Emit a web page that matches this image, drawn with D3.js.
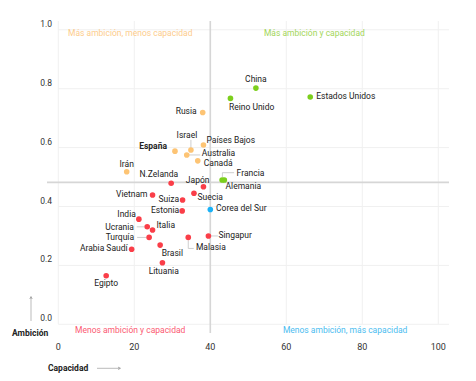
<!DOCTYPE html>
<html>
<head>
<meta charset="utf-8">
<script src="https://cdn.jsdelivr.net/npm/d3@7"></script>
<style>
  html, body { margin: 0; padding: 0; background: #fff; }
  svg { display: block; font-family: Roboto, "Liberation Sans", sans-serif; }
</style>
</head>
<body>
<svg id="chart" width="476" height="381"></svg>
<script>
// ---- Data ----
const countries = ["China","Estados Unidos","Reino Unido","Rusia","España","Israel","Países Bajos","Australia","Canadá","Irán","N.Zelanda","Japón","Francia","Alemania","Vietnam","Suiza","Suecia","Corea del Sur","Estonia","India","Ucrania","Italia","Turquía","Arabia Saudí","Brasil","Malasia","Singapur","Lituania","Egipto"];
const capacity  = [52.0, 66.3, 45.3, 38.0, 30.7, 34.9, 38.2, 33.8, 36.7, 18.0, 29.7, 38.2, 43.1, 43.7, 24.8, 32.7, 35.7, 40.0, 32.6, 21.2, 23.4, 24.8, 23.9, 19.3, 26.8, 34.2, 39.5, 27.4, 12.6];
const ambition  = [0.802, 0.772, 0.767, 0.719, 0.588, 0.592, 0.609, 0.575, 0.555, 0.518, 0.479, 0.467, 0.490, 0.490, 0.439, 0.422, 0.445, 0.390, 0.385, 0.357, 0.331, 0.320, 0.295, 0.255, 0.269, 0.295, 0.300, 0.209, 0.165];
const xTicks = [0, 20, 40, 60, 80, 100];
const yTicks = [0, 0.2, 0.4, 0.6, 0.8, 1.0];
const capacityRef = 40;
const ambitionRef = 0.482;
const quadrantLabels = ["Más ambición, menos capacidad", "Más ambición y capacidad", "Menos ambición y capacidad", "Menos ambición, más capacidad"];

// ---- Layout / styling (not data) ----
const colors = { hiLo: "#fdc474", hiHi: "#7ccf1d", loLo: "#fa3e48", loHi: "#1ab2f7" };
const quadTextColors = ["#fdcc8c", "#a3d65a", "#fb5a72", "#4cbdf0"];
// label placement: [dx, dy, anchor, leader points (relative to dot) or null, bold]
const labelPlacement = {
  "China": [0, -6, "middle"],
  "Estados Unidos": [6, 2, "start"],
  "Reino Unido": [-1.5, 12, "start"],
  "Rusia": [-6, 1.5, "end"],
  "España": [-8, -2, "end", null, true],
  "Israel": [-4, -12, "middle", [[0,-2],[0,-10]]],
  "Países Bajos": [3, -2, "start"],
  "Australia": [15, 1.5, "start", [[2,0],[13.5,0]]],
  "Canadá": [6, 5, "start"],
  "Irán": [0, -5, "middle"],
  "N.Zelanda": [7, -6, "end"],
  "Japón": [6, -4, "end"],
  "Francia": [14.5, -3.5, "start", [[0.3,-3],[0.3,-7.3],[12,-7.3]]],
  "Alemania": [1.2, 9, "start"],
  "Vietnam": [-5, 2, "end"],
  "Suiza": [-3.5, 1.5, "end"],
  "Suecia": [3.5, 6.5, "start"],
  "Corea del Sur": [5.7, 2, "start"],
  "Estonia": [-3, 2, "end"],
  "India": [-3, -2.3, "end"],
  "Ucrania": [-13.3, 3, "end", [[-2.5,0],[-10.5,0]]],
  "Italia": [4, -2, "start"],
  "Turquía": [-15, 2.4, "end", [[-2.5,0],[-12,0]]],
  "Arabia Saudí": [-4, 1.4, "end"],
  "Brasil": [1.7, 10.7, "start"],
  "Malasia": [7.7, 13, "start", [[0,3],[0,11],[5.5,11]]],
  "Singapur": [10, 2, "start", [[2.5,0],[9.5,0]]],
  "Lituania": [1.3, 11.3, "middle"],
  "Egipto": [0, 10, "middle"]
};

const svg = d3.select("#chart");
const x = d3.scaleLinear().domain([0, 100]).range([58.3, 438.3]);
const y = d3.scaleLinear().domain([0, 1]).range([324.3, 29.8]);

// gridlines
const grid = svg.append("g");
grid.selectAll("line.gy").data(yTicks).join("line")
  .attr("x1", x(0)).attr("x2", 449)
  .attr("y1", d => y(d)).attr("y2", d => y(d))
  .attr("stroke", "#f0f0f0").attr("stroke-width", 1);
grid.selectAll("line.gx").data(xTicks).join("line")
  .attr("x1", d => x(d)).attr("x2", d => x(d))
  .attr("y1", 21).attr("y2", y(0))
  .attr("stroke", "#f0f0f0").attr("stroke-width", 1);

// y tick labels
svg.append("g").selectAll("text").data(yTicks).join("text")
  .attr("x", 52).attr("y", d => y(d) - 3)
  .attr("text-anchor", "end")
  .attr("font-size", 8.5).attr("fill", "#333")
  .text(d => d3.format(".1f")(d));

// x tick labels
svg.append("g").selectAll("text").data(xTicks).join("text")
  .attr("x", d => x(d)).attr("y", 350)
  .attr("text-anchor", "middle")
  .attr("font-size", 9).attr("fill", "#333")
  .text(d => d);

// reference lines
svg.append("line")
  .attr("x1", x(capacityRef)).attr("x2", x(capacityRef))
  .attr("y1", 21).attr("y2", 333)
  .attr("stroke", "#d6d6d6").attr("stroke-width", 1.6);
svg.append("line")
  .attr("x1", 47).attr("x2", 449)
  .attr("y1", y(ambitionRef)).attr("y2", y(ambitionRef))
  .attr("stroke", "#d6d6d6").attr("stroke-width", 1.6);

// quadrant labels
const qPos = [[2.55, 36, "start"], [54.1, 36, "start"], [4.4, 333, "start"], [59.1, 333, "start"]];
svg.append("g").selectAll("text").data(quadrantLabels).join("text")
  .attr("x", (d, i) => x(qPos[i][0]))
  .attr("y", (d, i) => qPos[i][1])
  .attr("text-anchor", (d, i) => qPos[i][2])
  .attr("font-size", 8.5)
  .attr("fill", (d, i) => quadTextColors[i])
  .text(d => d);

// axis captions
svg.append("text").attr("x", 12).attr("y", 336)
  .attr("font-size", 8.5).attr("font-weight", "bold").attr("fill", "#222").text("Ambición");
svg.append("line").attr("x1", 31).attr("x2", 31).attr("y1", 297).attr("y2", 321)
  .attr("stroke", "#bbb").attr("stroke-width", 1);
svg.append("path").attr("d", "M29.8,299 L31,296.5 L32.2,299").attr("fill", "none").attr("stroke", "#999").attr("stroke-width", 0.8);
svg.append("text").attr("x", 48).attr("y", 370.5)
  .attr("font-size", 8.5).attr("font-weight", "bold").attr("fill", "#222").text("Capacidad");
svg.append("line").attr("x1", 97).attr("x2", 120).attr("y1", 368.3).attr("y2", 368.3)
  .attr("stroke", "#bbb").attr("stroke-width", 1);
svg.append("path").attr("d", "M118,367.1 L120.5,368.3 L118,369.5").attr("fill", "none").attr("stroke", "#999").attr("stroke-width", 0.8);

// points
const pts = countries.map((c, i) => ({ name: c, cap: capacity[i], amb: ambition[i] }));
function colorOf(d) {
  if (d.amb >= ambitionRef) return d.cap >= capacityRef ? colors.hiHi : colors.hiLo;
  return d.cap >= capacityRef ? colors.loHi : colors.loLo;
}

// leaders
const leaders = svg.append("g");
pts.forEach(d => {
  const p = labelPlacement[d.name];
  if (p && p[3]) {
    leaders.append("path")
      .attr("d", d3.line()(p[3].map(q => [x(d.cap) + q[0], y(d.amb) + q[1]])))
      .attr("fill", "none").attr("stroke", "#c8c8c8").attr("stroke-width", 0.9);
  }
});

svg.append("g").selectAll("circle").data(pts).join("circle")
  .attr("cx", d => x(d.cap)).attr("cy", d => y(d.amb))
  .attr("r", 2.8)
  .attr("fill", colorOf);

svg.append("g").selectAll("text").data(pts).join("text")
  .attr("x", d => x(d.cap) + labelPlacement[d.name][0])
  .attr("y", d => y(d.amb) + labelPlacement[d.name][1])
  .attr("text-anchor", d => labelPlacement[d.name][2])
  .attr("font-size", 8.5)
  .attr("font-weight", d => labelPlacement[d.name][4] ? "bold" : "normal")
  .attr("fill", "#222")
  .text(d => d.name);
</script>
</body>
</html>
